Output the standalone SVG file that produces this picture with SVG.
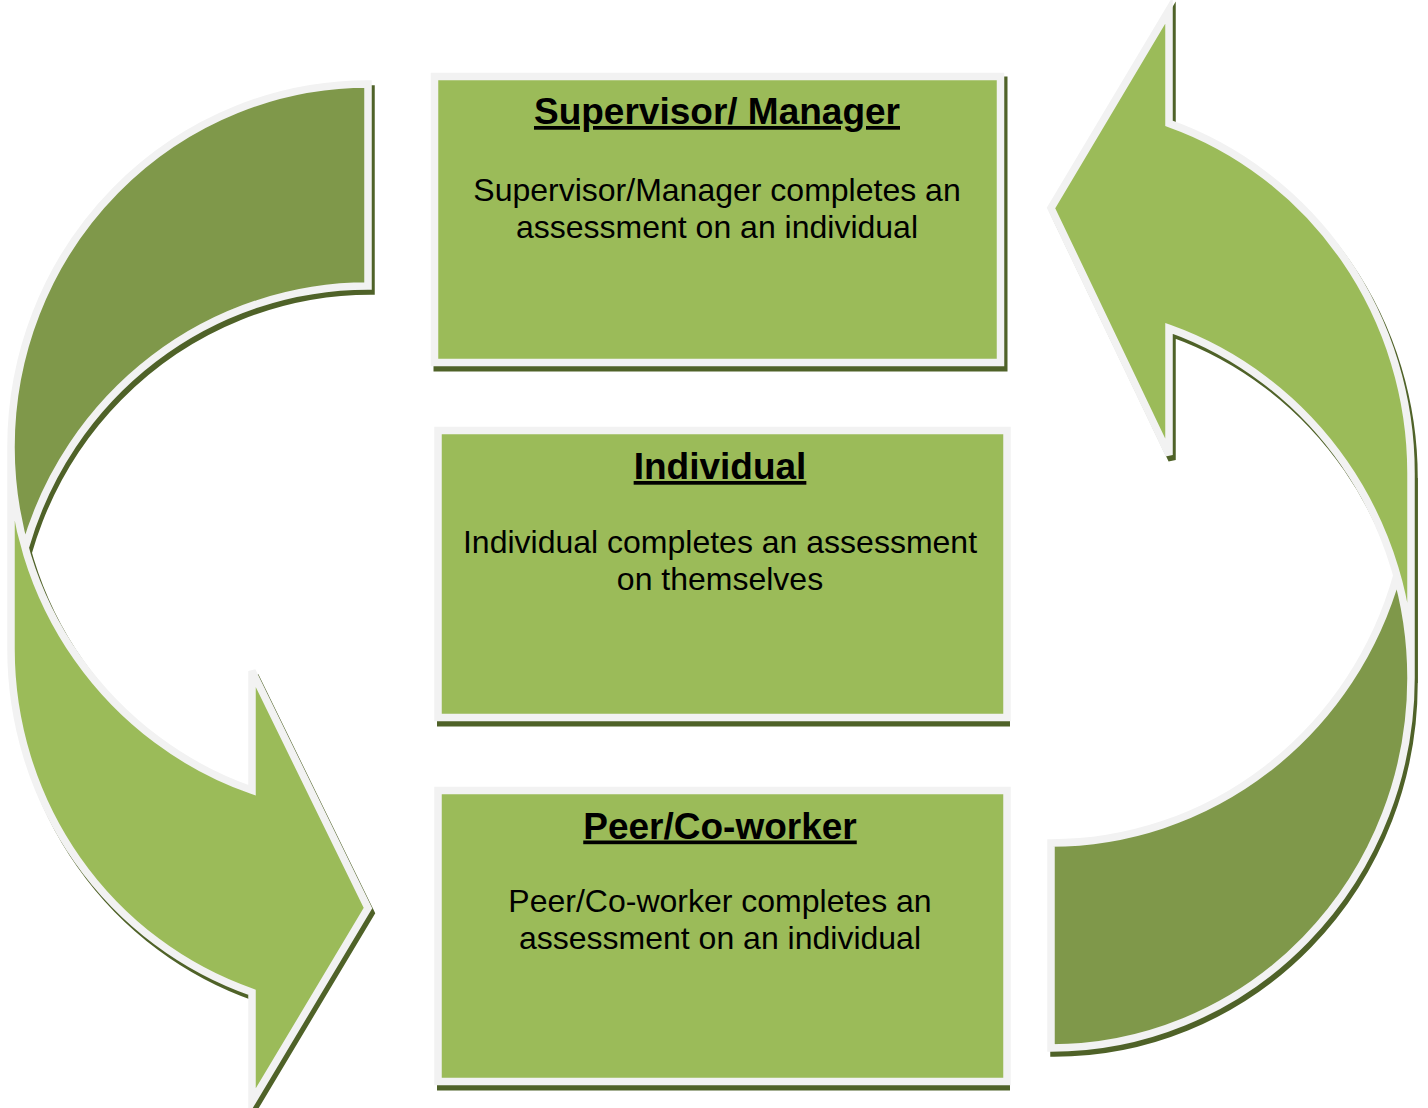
<svg xmlns="http://www.w3.org/2000/svg" width="1428" height="1108" viewBox="0 0 1428 1108">
<style>
.bg{fill:#ffffff}
.shadow{fill:#4f6228;stroke:#4f6228;stroke-width:7.5}
.light{fill:#9bbb59}
.dark{fill:#7f984a}
.outline{fill:none;stroke:#f2f2f2;stroke-width:7.5}
.box{fill:#9bbb59;stroke:#f2f2f2;stroke-width:7.5}
.title{font-family:"Liberation Sans",Arial,sans-serif;font-size:37px;font-weight:bold;fill:#000;text-anchor:middle;text-decoration:underline}
.body{font-family:"Liberation Sans",Arial,sans-serif;font-size:32px;fill:#000;text-anchor:middle}
</style>
<rect class="bg" x="0" y="0" width="1428" height="1108"/>

<g id="connectors">
  <g id="arrow-left">
    <g class="shadow" transform="translate(3,5)">
      <path d="M 368 84 A 357 363 0 0 0 11 447 L 11 649 A 357 363 0 0 1 368 286 Z"/>
      <path d="M 11 447 A 357 363 0 0 0 252 790.3 L 252 671 L 368 908 L 252 1102 L 252 992.3 A 357 363 0 0 1 11 649 Z"/>
    </g>
    <path class="dark" d="M 368 84 A 357 363 0 0 0 11 447 L 11 649 A 357 363 0 0 1 368 286 Z"/>
    <path class="light" d="M 11 447 A 357 363 0 0 0 252 790.3 L 252 671 L 368 908 L 252 1102 L 252 992.3 A 357 363 0 0 1 11 649 Z"/>
    <path class="outline" d="M 11 447 A 357 363 0 0 0 252 790.3 L 252 671 L 368 908 L 252 1102 L 252 992.3 A 357 363 0 0 1 11 649 L 11 447 A 357 363 0 0 1 368 84 L 368 286 A 357 363 0 0 0 25.1 548"/>
  </g>
  <g id="arrow-right">
    <g class="shadow" transform="translate(3,5)">
      <path d="M 1051 1048 A 360 370 0 0 0 1411 678 L 1411 473 A 360 370 0 0 1 1051 843 Z"/>
      <path d="M 1411 678 A 360 370 0 0 0 1169 328.4 L 1169 455 L 1051 208 L 1169 10 L 1169 123.4 A 360 370 0 0 1 1411 473 Z"/>
    </g>
    <path class="dark" d="M 1051 1048 A 360 370 0 0 0 1411 678 L 1411 473 A 360 370 0 0 1 1051 843 Z"/>
    <path class="light" d="M 1411 678 A 360 370 0 0 0 1169 328.4 L 1169 455 L 1051 208 L 1169 10 L 1169 123.4 A 360 370 0 0 1 1411 473 Z"/>
    <path class="outline" d="M 1411 678 A 360 370 0 0 0 1169 328.4 L 1169 455 L 1051 208 L 1169 10 L 1169 123.4 A 360 370 0 0 1 1411 473 L 1411 678 A 360 370 0 0 1 1051 1048 L 1051 843 A 360 370 0 0 0 1396.9 575.5"/>
  </g>
</g>

<g id="node-supervisor">
  <rect x="433.5" y="76.5" width="574" height="295" fill="#4f6228"/>
  <rect class="box" x="434.5" y="76.5" width="566" height="286"/>
  <text class="title" x="717" y="124">Supervisor/ Manager</text>
  <text class="body" x="717" y="201">Supervisor/Manager completes an</text>
  <text class="body" x="717" y="237.5">assessment on an individual</text>
</g>

<g id="node-individual">
  <rect x="437" y="431.5" width="573" height="295" fill="#4f6228"/>
  <rect class="box" x="438" y="430.5" width="569" height="287"/>
  <text class="title" x="720" y="479">Individual</text>
  <text class="body" x="720" y="553">Individual completes an assessment</text>
  <text class="body" x="720" y="589.5">on themselves</text>
</g>

<g id="node-peer">
  <rect x="437" y="791.5" width="573" height="299" fill="#4f6228"/>
  <rect class="box" x="438" y="790.5" width="569" height="291"/>
  <text class="title" x="720" y="838.5">Peer/Co-worker</text>
  <text class="body" x="720" y="912">Peer/Co-worker completes an</text>
  <text class="body" x="720" y="948.5">assessment on an individual</text>
</g>
</svg>
